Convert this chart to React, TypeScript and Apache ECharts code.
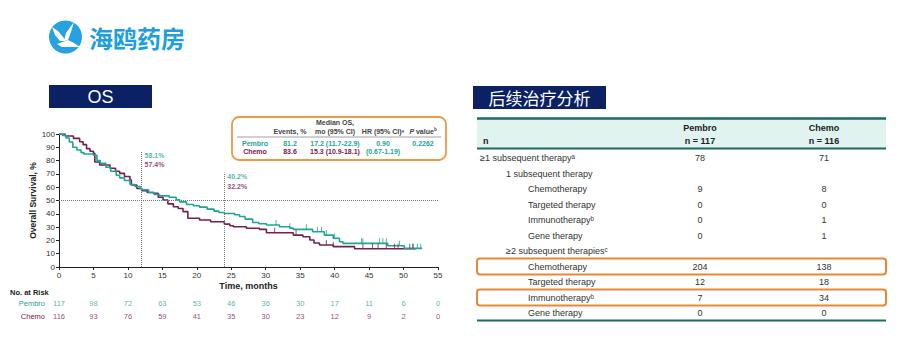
import React, { useEffect, useRef } from "react";
import * as echarts from "echarts";

// ---------- Data ----------
const TEAL = "#1fa595";
const MAROON = "#76204f";

const pembroT = [0, 0.5, 1, 1.5, 2, 2.6, 3.2, 3.6, 5, 5.5, 6, 6.8, 7.5, 8.3, 8.8, 9.5, 10.3, 11, 11.8, 12, 13, 13.8, 14.6, 16, 17, 17.5, 18.5, 19.5, 20.4, 21.5, 22.5, 23.2, 24, 25.5, 26.2, 27, 28.1, 29, 30.1, 32, 33.5, 34, 36.8, 38.5, 39.8, 40.7, 41.2, 47.7, 50.1, 52.7];
const pembroS = [100, 99, 97, 94, 90, 88, 86, 85, 84, 80, 78, 75, 72, 69, 67, 65, 62, 60.5, 59, 58.1, 56, 54.5, 53.5, 52.5, 50.5, 49, 47, 46, 45, 43.5, 42, 41, 40.2, 39.3, 38, 36, 33.5, 32.5, 31.6, 30.3, 29.2, 28.3, 26.5, 24, 21.6, 19, 17.8, 16, 14, 14];

const chemoT = [0, 0.9, 2.1, 3, 3.5, 4, 4.5, 5, 5.2, 5.9, 7.4, 8.2, 8.8, 9.5, 10.3, 10.5, 11.3, 12, 12.8, 13.7, 14.4, 15.1, 15.8, 16.6, 17.3, 18, 18.7, 20.4, 22, 24, 24.8, 25.3, 27.2, 29.1, 30.1, 34, 35.4, 36.4, 37, 37.8, 39.8, 42.9, 51.8];
const chemoS = [100, 98.5, 96.7, 94.2, 92, 89, 87, 85.5, 79, 76.7, 74.2, 72, 70.4, 68, 65.4, 61.7, 59, 57.4, 56, 55.4, 52.5, 50.4, 47.5, 45.3, 44, 41.6, 36.6, 35.3, 34, 32.2, 31, 30.3, 29.1, 28.3, 25.8, 24, 22.8, 20.3, 18, 16.5, 15.3, 13.7, 13.7];

const pembroCensor = [31.5, 33.5, 35.9, 37.5, 38.1, 38.8, 40, 43.9, 44.1, 46.5, 47, 47.5, 49.4, 51.3, 52, 52.5];
const chemoCensor = [31.3, 34.4, 38.8, 39.8, 44.1, 45.5, 46.3, 47.5, 48.7, 49.2, 50.9, 51.4];

const riskTimes = [0, 5, 10, 15, 20, 25, 30, 35, 40, 45, 50, 55];
const pembroRisk = [117, 98, 72, 63, 53, 46, 36, 30, 17, 11, 6, 0];
const chemoRisk = [116, 93, 76, 59, 41, 35, 30, 23, 12, 9, 2, 0];

const landmarks = [12, 24];
const landmarkPembro = ["58.1%", "40.2%"];
const landmarkChemo = ["57.4%", "32.2%"];

const insetHeaders = ["Events, %", "Median OS,\nmo (95% CI)", "HR (95% CI)ᵃ", "{i|P}{n| value}{s|b}"];
const insetArms = ["Pembro", "Chemo"];
const insetEvents = ["81.2", "83.6"];
const insetMedian = ["17.2 (11.7-22.9)", "15.3 (10.9-18.1)"];
const insetHR = "0.90";
const insetHRCI = "(0.67-1.19)";
const insetP = "0.2262";

const tableRows = [
  "≥1 subsequent therapyᵃ",
  "1 subsequent therapy",
  "Chemotherapy",
  "Targeted therapy",
  "Immunotherapyᵇ",
  "Gene therapy",
  "≥2 subsequent therapiesᶜ",
  "Chemotherapy",
  "Targeted therapy",
  "Immunotherapyᵇ",
  "Gene therapy",
];
const tableIndent = [0, 1, 2, 2, 2, 2, 1, 2, 2, 2, 2];
const tablePembro = ["78", "", "9", "0", "0", "0", "", "204", "12", "7", "0"];
const tableChemo = ["71", "", "8", "0", "1", "1", "", "138", "18", "34", "0"];
const highlightedRows = [7, 9];

// ---------- Helpers ----------
const zip = (a: number[], b: number[]) => a.map((v, i) => [v, b[i]]);
const survAt = (ts: number[], ss: number[], t: number) => {
  let s = ss[0];
  for (let i = 0; i < ts.length; i++) if (ts[i] <= t) s = ss[i];
  return s;
};

const FONT = "'Liberation Sans', Arial, sans-serif";
const CJK = "'Noto Sans CJK SC', sans-serif";

function buildGraphics() {
  const g: any[] = [];
  // Logo
  g.push({ type: "circle", shape: { cx: 65.5, cy: 37, r: 16.5 }, style: { fill: "#27a1e0" } });
  g.push({ type: "polygon", shape: { points: [[52, 27], [58, 31], [63, 37], [66, 41], [60, 41], [55, 35]] }, style: { fill: "#fff" } });
  g.push({ type: "polygon", shape: { points: [[74, 22], [71, 32], [68, 40], [64, 41], [66, 33]] }, style: { fill: "#fff" } });
  g.push({ type: "polygon", shape: { points: [[57, 44], [68, 40], [74, 43], [80, 47], [70, 47], [62, 47]] }, style: { fill: "#fff" } });
  g.push({ type: "text", x: 89, y: 37, style: { text: "海鸥药房", font: `bold 24px ${CJK}`, fill: "#1c9fe0", textVerticalAlign: "middle" } });

  // OS title
  g.push({ type: "rect", shape: { x: 49, y: 85, width: 103, height: 23 }, style: { fill: "#0b2163" } });
  g.push({ type: "text", x: 100.5, y: 97, style: { text: "OS", font: `18px ${FONT}`, fill: "#fff", textAlign: "center", textVerticalAlign: "middle" } });
  // Right title
  g.push({ type: "rect", shape: { x: 473, y: 86, width: 133, height: 23 }, style: { fill: "#0b2163" } });
  g.push({ type: "text", x: 539.5, y: 97.5, style: { text: "后续治疗分析", font: `17px ${CJK}`, fill: "#fff", textAlign: "center", textVerticalAlign: "middle" } });

  // Inset table
  g.push({ type: "rect", shape: { x: 232, y: 117, width: 214, height: 43, r: 7 }, style: { fill: "#fff", stroke: "#ee9a45", lineWidth: 1.8 }, z: 10 });
  const hx = [290, 335, 383, 423];
  insetHeaders.forEach((h, i) => {
    g.push({
      type: "text", x: hx[i], y: 135.5, z: 11,
      style: {
        text: h, font: `bold 7px ${FONT}`, fill: "#444", textAlign: "center", textVerticalAlign: "bottom", lineHeight: 8.5,
        rich: {
          i: { fontStyle: "italic", fontWeight: "bold", fontSize: 7, fontFamily: FONT, fill: "#444" },
          n: { fontWeight: "bold", fontSize: 7, fontFamily: FONT, fill: "#444" },
          s: { fontWeight: "bold", fontSize: 4.5, fontFamily: FONT, fill: "#444", verticalAlign: "top", padding: [0, 0, 3, 0] },
        },
      },
    });
  });
  g.push({ type: "line", z: 11, shape: { x1: 237, y1: 137, x2: 441, y2: 137 }, style: { stroke: "#888", lineWidth: 0.8 } });
  insetArms.forEach((a, i) => {
    const col = i === 0 ? TEAL : MAROON;
    const y = 143 + i * 8.5;
    g.push({ type: "text", x: 255, y, z: 11, style: { text: a, font: `bold 7px ${FONT}`, fill: col, textAlign: "center", textVerticalAlign: "middle" } });
    g.push({ type: "text", x: 290, y, z: 11, style: { text: insetEvents[i], font: `bold 7px ${FONT}`, fill: col, textAlign: "center", textVerticalAlign: "middle" } });
    g.push({ type: "text", x: 335, y, z: 11, style: { text: insetMedian[i], font: `bold 7px ${FONT}`, fill: col, textAlign: "center", textVerticalAlign: "middle" } });
  });
  g.push({ type: "text", x: 383, y: 143, z: 11, style: { text: insetHR, font: `bold 7px ${FONT}`, fill: TEAL, textAlign: "center", textVerticalAlign: "middle" } });
  g.push({ type: "text", x: 383, y: 151.5, z: 11, style: { text: insetHRCI, font: `bold 7px ${FONT}`, fill: TEAL, textAlign: "center", textVerticalAlign: "middle" } });
  g.push({ type: "text", x: 423, y: 143, z: 11, style: { text: insetP, font: `bold 7px ${FONT}`, fill: TEAL, textAlign: "center", textVerticalAlign: "middle" } });

  // No. at Risk
  g.push({ type: "text", x: 10, y: 292, style: { text: "No. at Risk", font: `bold 7.5px ${FONT}`, fill: "#222", textVerticalAlign: "middle" } });

  // Right table
  const tl = 477, tr = 886;
  g.push({ type: "rect", shape: { x: tl, y: 119, width: tr - tl, height: 29 }, style: { fill: "#e0f3ef" } });
  g.push({ type: "line", shape: { x1: tl, y1: 118.5, x2: tr, y2: 118.5 }, style: { stroke: "#1c6b5f", lineWidth: 2.5 } });
  g.push({ type: "line", shape: { x1: tl, y1: 148.5, x2: tr, y2: 148.5 }, style: { stroke: "#1c6b5f", lineWidth: 2 } });
  g.push({ type: "line", shape: { x1: tl, y1: 320.5, x2: tr, y2: 320.5 }, style: { stroke: "#1c6b5f", lineWidth: 2 } });
  g.push({ type: "text", x: 483, y: 141, style: { text: "n", font: `bold 9px ${FONT}`, fill: "#222", textVerticalAlign: "middle" } });
  g.push({ type: "text", x: 700, y: 128, style: { text: "Pembro", font: `bold 9px ${FONT}`, fill: "#222", textAlign: "center", textVerticalAlign: "middle" } });
  g.push({ type: "text", x: 700, y: 141, style: { text: "n = 117", font: `bold 9px ${FONT}`, fill: "#222", textAlign: "center", textVerticalAlign: "middle" } });
  g.push({ type: "text", x: 824, y: 128, style: { text: "Chemo", font: `bold 9px ${FONT}`, fill: "#222", textAlign: "center", textVerticalAlign: "middle" } });
  g.push({ type: "text", x: 824, y: 141, style: { text: "n = 116", font: `bold 9px ${FONT}`, fill: "#222", textAlign: "center", textVerticalAlign: "middle" } });
  const indentX = [480, 506, 528];
  tableRows.forEach((r, i) => {
    const y = 158 + i * 15.5;
    g.push({ type: "text", x: indentX[tableIndent[i]], y, style: { text: r, font: `9px ${FONT}`, fill: "#333", textVerticalAlign: "middle" } });
    g.push({ type: "text", x: 700, y, style: { text: tablePembro[i], font: `9px ${FONT}`, fill: "#333", textAlign: "center", textVerticalAlign: "middle" } });
    g.push({ type: "text", x: 824, y, style: { text: tableChemo[i], font: `9px ${FONT}`, fill: "#333", textAlign: "center", textVerticalAlign: "middle" } });
  });
  highlightedRows.forEach((i) => {
    const y = 158 + i * 15.5;
    g.push({ type: "rect", shape: { x: tl, y: y - 8, width: tr - tl, height: 16, r: 3 }, style: { fill: "none", stroke: "#e8873a", lineWidth: 2 } });
  });
  return g;
}

function buildOption() {
  const axisCol = "#222";
  const annData: any[] = [];
  landmarks.forEach((t, i) => {
    annData.push({ value: [t + 0.35, [83.5, 67.7][i]], name: landmarkPembro[i], label: { color: TEAL } });
    annData.push({ value: [t + 0.35, [76.7, 60.2][i]], name: landmarkChemo[i], label: { color: MAROON } });
  });
  return {
    animation: false,
    backgroundColor: "#fff",
    grid: [
      { left: 59, top: 134, width: 379, height: 133 },
      { left: 59, top: 296.5, width: 379, height: 26 },
    ],
    xAxis: [
      {
        gridIndex: 0, type: "value", min: 0, max: 55, interval: 5,
        axisLine: { show: true, lineStyle: { color: axisCol, width: 1 } },
        axisTick: { show: true, length: 3, lineStyle: { color: axisCol } },
        axisLabel: { fontSize: 8, color: "#333", margin: 4, fontFamily: FONT },
        splitLine: { show: false },
        name: "Time, months", nameLocation: "middle", nameGap: 14,
        nameTextStyle: { fontSize: 9, fontWeight: "bold", color: "#222", fontFamily: FONT },
      },
      { gridIndex: 1, type: "value", min: 0, max: 55, interval: 5, show: false },
    ],
    yAxis: [
      {
        gridIndex: 0, type: "value", min: 0, max: 100, interval: 10,
        axisLine: { show: true, lineStyle: { color: axisCol, width: 1 } },
        axisTick: { show: true, length: 3, lineStyle: { color: axisCol } },
        axisLabel: { fontSize: 8, color: "#333", margin: 4, fontFamily: FONT },
        splitLine: { show: false },
        name: "Overall Survival, %", nameLocation: "middle", nameGap: 17, nameRotate: 90,
        nameTextStyle: { fontSize: 8.5, fontWeight: "bold", color: "#222", fontFamily: FONT },
      },
      {
        gridIndex: 1, type: "category", data: ["Chemo", "Pembro"],
        axisLine: { show: false }, axisTick: { show: false }, splitLine: { show: false },
        axisLabel: {
          show: true, interval: 0, hideOverlap: false,
          margin: 14, fontFamily: FONT,
          formatter: (v: string) => `{${v}|${v}}`,
          rich: {
            Pembro: { color: TEAL, fontSize: 7.5, fontFamily: FONT },
            Chemo: { color: MAROON, fontSize: 7.5, fontFamily: FONT },
          },
        },
      },
    ],
    series: [
      {
        type: "line", xAxisIndex: 0, yAxisIndex: 0, step: "end", showSymbol: false, z: 3,
        data: zip(pembroT, pembroS), lineStyle: { color: TEAL, width: 1.6 }, itemStyle: { color: TEAL },
        markLine: {
          silent: true, symbol: "none", label: { show: false },
          lineStyle: { type: "dotted", color: "#777", width: 1 },
          data: [
            { yAxis: 50 },
            [{ coord: [landmarks[0], 0] }, { coord: [landmarks[0], 87] }],
            [{ coord: [landmarks[1], 0] }, { coord: [landmarks[1], 71] }],
          ],
        },
      },
      {
        type: "line", xAxisIndex: 0, yAxisIndex: 0, step: "end", showSymbol: false, z: 2,
        data: zip(chemoT, chemoS), lineStyle: { color: MAROON, width: 1.6 }, itemStyle: { color: MAROON },
      },
      {
        type: "scatter", xAxisIndex: 0, yAxisIndex: 0, symbol: "rect", symbolSize: [1, 5], symbolOffset: [0, -2.5], z: 4,
        itemStyle: { color: TEAL },
        data: pembroCensor.map((t) => [t, survAt(pembroT, pembroS, t)]),
      },
      {
        type: "scatter", xAxisIndex: 0, yAxisIndex: 0, symbol: "rect", symbolSize: [1, 5], symbolOffset: [0, -2.5], z: 4,
        itemStyle: { color: MAROON },
        data: chemoCensor.map((t) => [t, survAt(chemoT, chemoS, t)]),
      },
      {
        type: "scatter", xAxisIndex: 0, yAxisIndex: 0, symbolSize: 1, itemStyle: { color: "transparent" }, z: 5,
        label: { show: true, position: "right", distance: 0, formatter: "{b}", fontSize: 7, fontWeight: "bold", fontFamily: FONT },
        data: annData,
      },
      {
        type: "scatter", xAxisIndex: 1, yAxisIndex: 1, symbolSize: 1, itemStyle: { color: "transparent" },
        label: { show: true, position: "inside", formatter: (p: any) => String(p.value[2]), fontSize: 7.5, color: TEAL, fontFamily: FONT },
        data: riskTimes.map((t, i) => [t, "Pembro", pembroRisk[i]]),
      },
      {
        type: "scatter", xAxisIndex: 1, yAxisIndex: 1, symbolSize: 1, itemStyle: { color: "transparent" },
        label: { show: true, position: "inside", formatter: (p: any) => String(p.value[2]), fontSize: 7.5, color: MAROON, fontFamily: FONT },
        data: riskTimes.map((t, i) => [t, "Chemo", chemoRisk[i]]),
      },
    ],
    graphic: buildGraphics(),
  };
}

export default function App() {
  const ref = useRef<HTMLDivElement>(null);
  useEffect(() => {
    document.body.style.margin = "0";
    if (!ref.current) return;
    const chart = echarts.init(ref.current, null, { renderer: "svg" });
    chart.setOption(buildOption() as any);
    return () => chart.dispose();
  }, []);
  return <div ref={ref} style={{ width: 923, height: 348 }} />;
}
